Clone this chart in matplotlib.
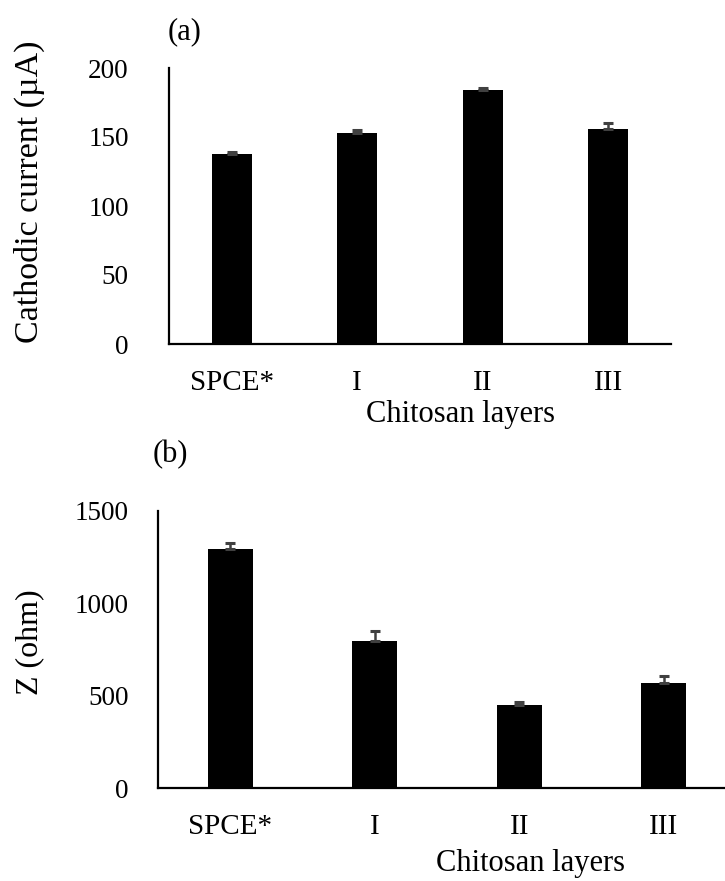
import matplotlib
matplotlib.use("Agg")
import matplotlib.pyplot as plt
import numpy as np

plt.rcParams['font.family'] = ['Liberation Serif', 'DejaVu Serif']

# data
layers = ['SPCE*', 'I', 'II', 'III']
current = [138, 153, 184, 155.5]       # cathodic current (uA)
current_err = [1, 2, 1.5, 5]
impedance = [1292, 795, 450, 569]      # Z (ohm)
impedance_err = [34, 53, 13, 38]

fig = plt.figure(figsize=(7.25, 8.81), dpi=100)

# panel (a)
ax1 = fig.add_axes([169/725, 1-344/881, 502/725, 276/881])
# panel (b) - runs past the right edge like the original
ax2 = fig.add_axes([158/725, 1-788/881, 578/725, 277/881])

x = np.arange(len(layers))


def style(ax, yticks, pad_y):
    for s in ['top', 'right']:
        ax.spines[s].set_visible(False)
    for s in ['left', 'bottom']:
        ax.spines[s].set_linewidth(1.6)
        ax.spines[s].set_color('black')
    ax.set_xlim(-0.5, len(layers) - 0.5)
    ax.set_ylim(yticks[0], yticks[-1])
    ax.set_yticks(yticks)
    ax.set_xticks(x)
    ax.set_xticklabels(layers)
    ax.tick_params(axis='both', length=0)
    ax.tick_params(axis='y', pad=pad_y, labelsize=19.5)
    ax.tick_params(axis='x', pad=19, labelsize=21)


ax1.bar(x, current, width=0.32, color='black', zorder=2)
ax1.errorbar(x, current, yerr=[np.zeros(4), current_err], fmt='none',
             ecolor='#404040', elinewidth=1.8, capsize=3.5, capthick=2.2, zorder=3)
style(ax1, [0, 50, 100, 150, 200], 29)

ax2.bar(x, impedance, width=0.31, color='black', zorder=2)
ax2.errorbar(x, impedance, yerr=[np.zeros(4), impedance_err], fmt='none',
             ecolor='#404040', elinewidth=1.8, capsize=3.5, capthick=2.2, zorder=3)
style(ax2, [0, 500, 1000, 1500], 21)

# axis titles
fig.text(29/725, 1-192/881, 'Cathodic current (\u00b5A)', rotation=90,
         ha='center', va='center', fontsize=24.5)
fig.text(30/725, 1-642/881, 'Z (ohm)', rotation=90,
         ha='center', va='center', fontsize=23)
fig.text(460/725, 1-415/881, 'Chitosan layers', ha='center', va='center', fontsize=22)
fig.text(530/725, 1-863/881, 'Chitosan layers', ha='center', va='center', fontsize=22)

# panel letters
fig.text(168/725, 1-32/881, '(a)', ha='left', va='center', fontsize=22)
fig.text(153/725, 1-455/881, '(b)', ha='left', va='center', fontsize=22)

fig.savefig('out.png', dpi=100)
